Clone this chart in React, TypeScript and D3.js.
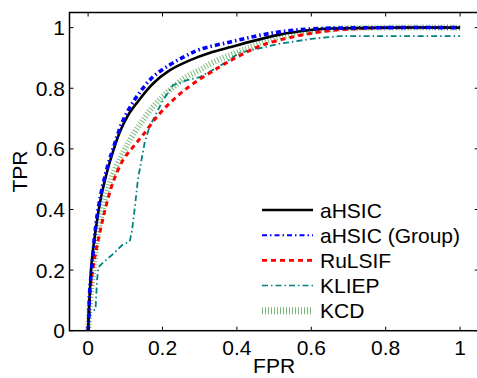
import React, { useRef, useEffect } from "react";
import * as d3 from "d3";

// ROC curves
const fprAHSIC = [0, 0.004, 0.009, 0.02, 0.033, 0.05, 0.068, 0.085, 0.107, 0.13, 0.174, 0.219, 0.273, 0.33, 0.38, 0.45, 0.515, 0.6, 0.65, 0.8, 1];
const tprAHSIC = [0, 0.11, 0.22, 0.33, 0.43, 0.52, 0.595, 0.655, 0.71, 0.75, 0.815, 0.859, 0.892, 0.918, 0.935, 0.958, 0.977, 0.992, 0.997, 1, 1];

const fprGroup = [0, 0.002, 0.004, 0.01, 0.019, 0.031, 0.053, 0.067, 0.094, 0.13, 0.174, 0.219, 0.26, 0.3, 0.38, 0.45, 0.515, 0.6, 0.8, 1];
const tprGroup = [0, 0.04, 0.124, 0.21, 0.33, 0.43, 0.546, 0.6, 0.694, 0.771, 0.837, 0.877, 0.905, 0.928, 0.952, 0.972, 0.986, 0.996, 1, 1];

const fprRuLSIF = [0, 0.004, 0.015, 0.033, 0.05, 0.07, 0.095, 0.12, 0.147, 0.192, 0.237, 0.282, 0.353, 0.403, 0.47, 0.56, 0.65, 0.8, 1];
const tprRuLSIF = [0, 0.11, 0.222, 0.332, 0.42, 0.5, 0.565, 0.605, 0.645, 0.716, 0.771, 0.815, 0.87, 0.905, 0.943, 0.972, 0.99, 1, 1];

const fprKLIEP = [0, 0.005, 0.02, 0.024, 0.028, 0.042, 0.069, 0.091, 0.112, 0.118, 0.125, 0.134, 0.152, 0.165, 0.201, 0.228, 0.264, 0.3, 0.35, 0.407, 0.515, 0.6, 0.676, 1];
const tprKLIEP = [0, 0.06, 0.07, 0.167, 0.21, 0.227, 0.255, 0.282, 0.295, 0.33, 0.4, 0.5, 0.62, 0.672, 0.76, 0.81, 0.826, 0.837, 0.87, 0.917, 0.947, 0.963, 0.972, 0.972];

const fprKCD = [0, 0.006, 0.017, 0.028, 0.045, 0.065, 0.095, 0.12, 0.174, 0.219, 0.264, 0.3, 0.335, 0.425, 0.515, 0.65, 0.8, 1];
const tprKCD = [0, 0.11, 0.222, 0.332, 0.43, 0.51, 0.59, 0.645, 0.738, 0.793, 0.837, 0.86, 0.885, 0.93, 0.97, 0.995, 1, 1];

const seriesNames = ["aHSIC", "aHSIC (Group)", "RuLSIF", "KLIEP", "KCD"];
const xTicks = [0, 0.2, 0.4, 0.6, 0.8, 1];
const yTicks = [0, 0.2, 0.4, 0.6, 0.8, 1];

function App() {
  const svgRef = useRef<SVGSVGElement | null>(null);

  useEffect(() => {
    const width = 477;
    const height = 378;
    const left = 69.5, top = 12.5, bottom = 330.7;
    const font = "'Liberation Sans', Arial, Helvetica, sans-serif";
    const fs = 21;

    const svg = d3.select(svgRef.current);
    svg.selectAll("*").remove();
    svg.attr("width", width).attr("height", height);

    const x = d3.scaleLinear().domain([-0.05, 1.05]).range([left, left + 409.2]);
    const y = d3.scaleLinear().domain([0, 1.05]).range([bottom, top]);

    const styles = [
      { color: "#000000", width: 2.6, dash: null as string | null, opacity: 1 },
      { color: "#0000ff", width: 3.6, dash: "5,3,1.5,3", opacity: 1 },
      { color: "#ff0000", width: 3, dash: "5,4", opacity: 1 },
      { color: "#008080", width: 1.8, dash: "6,3,1.5,3", opacity: 1 },
      { color: "#1f8a1f", width: 6, dash: "1,2", opacity: 0.6 },
    ];
    const fprs = [fprAHSIC, fprGroup, fprRuLSIF, fprKLIEP, fprKCD];
    const tprs = [tprAHSIC, tprGroup, tprRuLSIF, tprKLIEP, tprKCD];

    svg.append("clipPath").attr("id", "plotclip")
      .append("rect")
      .attr("x", x(-0.05)).attr("y", y(1.05))
      .attr("width", x(1.05) - x(-0.05)).attr("height", y(0) - y(1.05));

    const smooth = d3.line<[number, number]>()
      .x(d => x(d[0]))
      .y(d => y(d[1]))
      .curve(d3.curveCatmullRom.alpha(0.5));
    const straight = d3.line<[number, number]>()
      .x(d => x(d[0]))
      .y(d => y(d[1]));

    // draw in reverse so aHSIC sits on top
    const order = [4, 3, 2, 0, 1];
    order.forEach(i => {
      const pts = fprs[i].map((f, k) => [f, tprs[i][k]] as [number, number]);
      const lineFn = i === 3 ? straight : smooth;
      const p = svg.append("path")
        .attr("clip-path", "url(#plotclip)")
        .attr("d", lineFn(pts))
        .attr("fill", "none")
        .attr("stroke", styles[i].color)
        .attr("stroke-width", styles[i].width)
        .attr("stroke-opacity", styles[i].opacity);
      if (styles[i].dash) p.attr("stroke-dasharray", styles[i].dash);
    });

    // frame
    svg.append("rect")
      .attr("x", x(-0.05)).attr("y", y(1.05))
      .attr("width", x(1.05) - x(-0.05)).attr("height", y(0) - y(1.05))
      .attr("fill", "none").attr("stroke", "#000").attr("stroke-width", 1.5);

    // ticks (inward, both sides)
    const tl = 4;
    xTicks.forEach(t => {
      svg.append("line").attr("x1", x(t)).attr("x2", x(t)).attr("y1", y(0)).attr("y2", y(0) - tl)
        .attr("stroke", "#000").attr("stroke-width", 1);
      svg.append("line").attr("x1", x(t)).attr("x2", x(t)).attr("y1", y(1.05)).attr("y2", y(1.05) + tl)
        .attr("stroke", "#000").attr("stroke-width", 1);
      svg.append("text")
        .attr("x", x(t)).attr("y", 355)
        .attr("text-anchor", "middle")
        .attr("font-family", font).attr("font-size", fs)
        .text(String(t));
    });
    yTicks.forEach(t => {
      svg.append("line").attr("x1", x(-0.05)).attr("x2", x(-0.05) + tl).attr("y1", y(t)).attr("y2", y(t))
        .attr("stroke", "#000").attr("stroke-width", 1);
      svg.append("line").attr("x1", x(1.05)).attr("x2", x(1.05) - tl).attr("y1", y(t)).attr("y2", y(t))
        .attr("stroke", "#000").attr("stroke-width", 1);
      svg.append("text")
        .attr("x", 65).attr("y", y(t) + 7.5)
        .attr("text-anchor", "end")
        .attr("font-family", font).attr("font-size", fs)
        .text(String(t));
    });

    // axis labels
    svg.append("text")
      .attr("x", (x(-0.05) + x(1.05)) / 2).attr("y", 373)
      .attr("text-anchor", "middle")
      .attr("font-family", font).attr("font-size", fs)
      .text("FPR");
    svg.append("text")
      .attr("transform", `translate(27, ${(y(0) + y(1.05)) / 2}) rotate(-90)`)
      .attr("text-anchor", "middle")
      .attr("font-family", font).attr("font-size", fs)
      .text("TPR");

    // legend
    const lx1 = 262, lx2 = 313, ly0 = 210, lstep = 25.2;
    seriesNames.forEach((name, i) => {
      const ly = ly0 + i * lstep;
      const ls = svg.append("line")
        .attr("x1", lx1).attr("x2", lx2).attr("y1", ly).attr("y2", ly)
        .attr("stroke", styles[i].color)
        .attr("stroke-width", i === 1 ? 2 : i === 4 ? 7 : styles[i].width > 2 ? 2.6 : 1.5)
        .attr("stroke-opacity", styles[i].opacity);
      if (styles[i].dash) ls.attr("stroke-dasharray", styles[i].dash);
      svg.append("text")
        .attr("x", 320).attr("y", ly + 7.5)
        .attr("font-family", font).attr("font-size", fs)
        .text(name);
    });
  }, []);

  return (
    <svg ref={svgRef} style={{ position: "absolute", left: 0, top: 0 }}></svg>
  );
}

export default App;
